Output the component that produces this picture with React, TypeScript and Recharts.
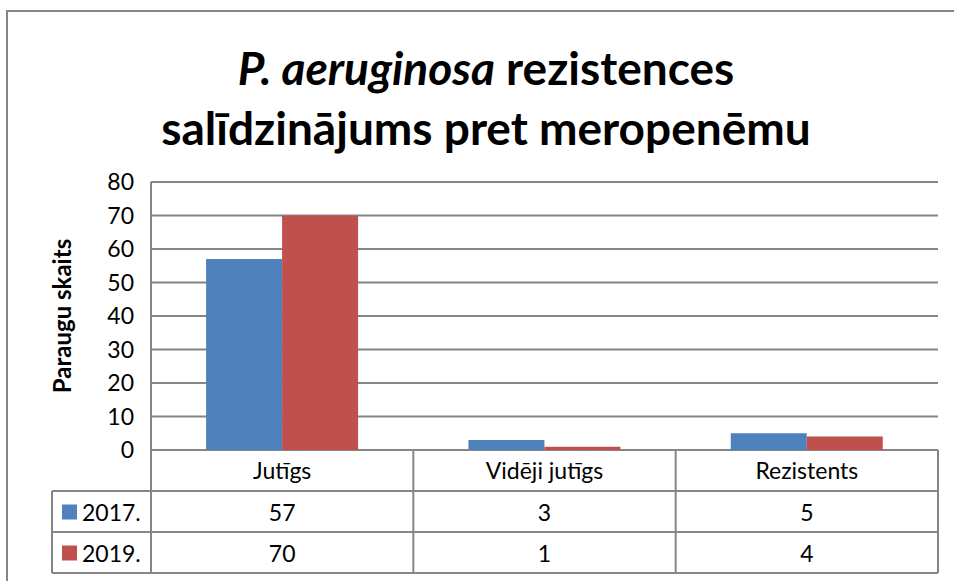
import React from 'react';
import { BarChart, Bar, XAxis, YAxis, CartesianGrid, Customized } from 'recharts';

const categories = ['Jutīgs', 'Vidēji jutīgs', 'Rezistents'];
const values2017 = [57, 3, 5];
const values2019 = [70, 1, 4];
const seriesNames = ['2017.', '2019.'];
const yTicks = [0, 10, 20, 30, 40, 50, 60, 70, 80];

const BLUE = '#4F81BD';
const RED = '#C0504D';
const LINE = '#868686';
const FONT = 'Lato, "Liberation Sans", sans-serif';
const TEXT_SIZE = 23;

// layout of the plot area
const W = 954;
const H = 581;
const PLOT_LEFT = 151;
const PLOT_RIGHT = 938;
const PLOT_TOP = 182;
const PLOT_BOTTOM = 450;
const ROW1 = 491;
const ROW2 = 532;
const TABLE_BOTTOM = 573;
const LEGEND_LEFT = 52;
const BAND = (PLOT_RIGHT - PLOT_LEFT) / categories.length;

const data = categories.map((name, i) => ({
    name,
    y2017: values2017[i],
    y2019: values2019[i],
}));

// each x tick draws one column of the data table
const TableTick = (props: any) => {
    const { x, payload } = props;
    const i = payload.index;
    const right = x + BAND / 2;
    return (
        <g fontFamily={FONT} fontSize={TEXT_SIZE} fill="#000">
            <text x={x} y={(PLOT_BOTTOM + ROW1) / 2 - 1} textAnchor="middle" dominantBaseline="central">
                {payload.value}
            </text>
            <text x={x} y={(ROW1 + ROW2) / 2} textAnchor="middle" dominantBaseline="central">
                {values2017[i]}
            </text>
            <text x={x} y={(ROW2 + TABLE_BOTTOM) / 2} textAnchor="middle" dominantBaseline="central">
                {values2019[i]}
            </text>
            <line x1={right} x2={right} y1={PLOT_BOTTOM} y2={TABLE_BOTTOM} stroke={LINE} strokeWidth={2} />
        </g>
    );
};

const Frame = () => {
    const rows = [
        { label: seriesNames[0], color: BLUE, top: ROW1, bottom: ROW2 },
        { label: seriesNames[1], color: RED, top: ROW2, bottom: TABLE_BOTTOM },
    ];
    return (
        <g fontFamily={FONT}>
            <rect x={7} y={11} width={1000} height={1000} fill="none" stroke={LINE} strokeWidth={2} />
            <text x={486} y={67} textAnchor="middle" dominantBaseline="central" fontSize={46} fontWeight="bold">
                <tspan fontStyle="italic">P. aeruginosa</tspan> rezistences
            </text>
            <text x={486} y={127} textAnchor="middle" dominantBaseline="central" fontSize={46} fontWeight="bold">
                salīdzinājums pret meropenēmu
            </text>
            <text
                x={61}
                y={316}
                transform="rotate(-90 61 316)"
                textAnchor="middle"
                dominantBaseline="central"
                fontSize={24}
                fontWeight="bold"
            >
                Paraugu skaits
            </text>
            <line x1={PLOT_LEFT} x2={PLOT_RIGHT} y1={PLOT_BOTTOM} y2={PLOT_BOTTOM} stroke={LINE} strokeWidth={2} />
            <line x1={LEGEND_LEFT} x2={PLOT_RIGHT} y1={ROW1} y2={ROW1} stroke={LINE} strokeWidth={2} />
            <line x1={LEGEND_LEFT} x2={PLOT_RIGHT} y1={ROW2} y2={ROW2} stroke={LINE} strokeWidth={2} />
            <line x1={LEGEND_LEFT} x2={PLOT_RIGHT} y1={TABLE_BOTTOM} y2={TABLE_BOTTOM} stroke={LINE} strokeWidth={2} />
            <line x1={LEGEND_LEFT} x2={LEGEND_LEFT} y1={ROW1} y2={TABLE_BOTTOM} stroke={LINE} strokeWidth={2} />
            <line x1={PLOT_LEFT} x2={PLOT_LEFT} y1={PLOT_TOP} y2={TABLE_BOTTOM} stroke={LINE} strokeWidth={2} />
            {rows.map((r) => {
                const mid = (r.top + r.bottom) / 2;
                return (
                    <g key={r.label}>
                        <rect x={62} y={mid - 7} width={15} height={15} fill={r.color} />
                        <text x={82} y={mid} dominantBaseline="central" fontSize={TEXT_SIZE}>
                            {r.label}
                        </text>
                    </g>
                );
            })}
        </g>
    );
};

export default function App() {
    return (
        <div style={{ position: 'absolute', left: 0, top: 0, width: W, height: H, background: '#fff' }}>
            <BarChart
                width={W}
                height={H}
                data={data}
                margin={{ top: PLOT_TOP, right: W - PLOT_RIGHT, bottom: 11, left: PLOT_LEFT - 100 }}
                barCategoryGap="21%"
                barGap={0}
            >
                <CartesianGrid vertical={false} stroke={LINE} strokeWidth={2} />
                <XAxis
                    dataKey="name"
                    height={120}
                    axisLine={false}
                    tickLine={false}
                    interval={0}
                    tick={<TableTick />}
                />
                <YAxis
                    width={100}
                    domain={[0, 80]}
                    ticks={yTicks}
                    axisLine={false}
                    tickLine={false}
                    tickSize={0}
                    tickMargin={17}
                    tick={{ fill: '#000', fontSize: TEXT_SIZE, fontFamily: FONT }}
                />
                <Bar dataKey="y2017" name={seriesNames[0]} fill={BLUE} isAnimationActive={false} />
                <Bar dataKey="y2019" name={seriesNames[1]} fill={RED} isAnimationActive={false} />
                <Customized component={Frame} />
            </BarChart>
        </div>
    );
}
